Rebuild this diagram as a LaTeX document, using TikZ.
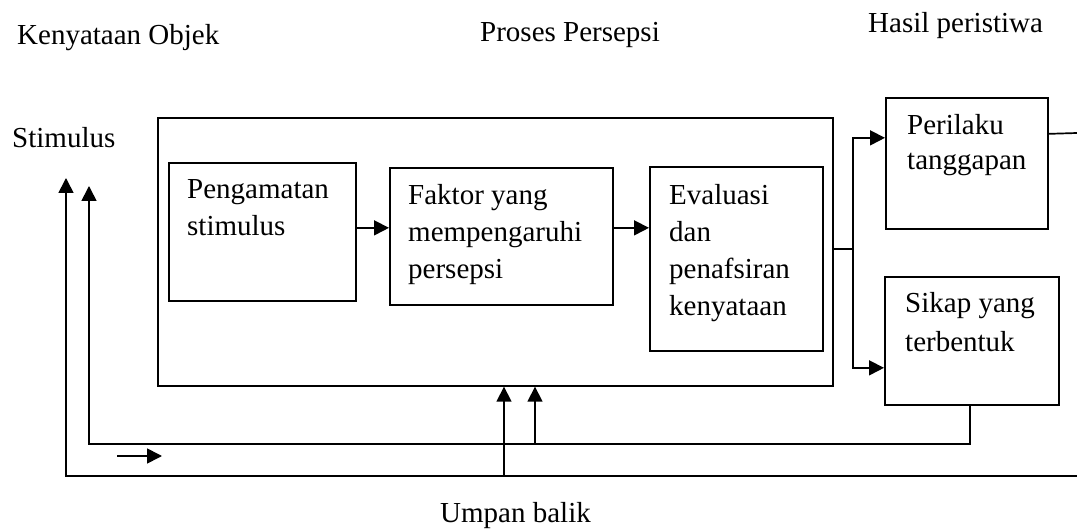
\documentclass[tikz,border=0pt]{standalone}
\usepackage{fontspec}
\setmainfont{Liberation Serif}
\usetikzlibrary{arrows.meta}
\begin{document}
\begin{tikzpicture}[x=1pt,y=-1pt,
  box/.style={draw, line width=1.7pt, inner sep=0pt, anchor=north west},
  lbl/.style={inner sep=0pt, anchor=base west, font=\fontsize{29}{37}\selectfont},
  ln/.style={line width=1.7pt},
  arr/.style={line width=1.7pt, -{Triangle[length=15pt,width=15pt]}}]
\useasboundingbox (0,0) rectangle (1077,529);

% headings
\node[lbl] (hk) at (17,45) {Kenyataan Objek};
\node[lbl] (hp) at (480,42) {Proses Persepsi};
\node[lbl] (hh) at (868,33) {Hasil peristiwa};
\node[lbl] (hs) at (12,148) {Stimulus};
\node[lbl] (hu) at (440,522) {Umpan balik};

% boxes
\node[box, minimum width=675pt, minimum height=268pt] (proc) at (157,117) {};
\node[box, minimum width=187pt, minimum height=138pt] (peng) at (168,162) {};
\node[box, minimum width=223pt, minimum height=137pt] (fak) at (389,167) {};
\node[box, minimum width=173pt, minimum height=184pt] (eva) at (649,166) {};
\node[box, minimum width=162pt, minimum height=131pt] (per) at (885,97) {};
\node[box, minimum width=174pt, minimum height=128pt] (sik) at (884,276) {};

% box texts
\node[lbl] (tpeng) at (187,199) {\vtop{\hbox{Pengamatan}\hbox{stimulus}}};
\node[lbl] (tfak) at (408,205) {\vtop{\hbox{Faktor yang}\hbox{mempengaruhi}\hbox{persepsi}}};
\node[lbl] (teva) at (669,205) {\vtop{\hbox{Evaluasi}\hbox{dan}\hbox{penafsiran}\hbox{kenyataan}}};
\node[lbl] (tper) at (907,135) {\vtop{\hbox{Perilaku}\kern-2pt\hbox{tanggapan}}};
\node[lbl] (tsik) at (905,313) {\vtop{\hbox{Sikap yang}\kern2pt\hbox{terbentuk}}};

% inner arrows
\coordinate (a1) at ([yshift=4pt]peng.east);
\draw[arr] (a1) -- (a1 -| fak.west);
\coordinate (a2) at ([yshift=8.5pt]fak.east);
\draw[arr] (a2) -- (a2 -| eva.west);

% split to results
\coordinate (b0) at ([yshift=3pt]proc.east);
\coordinate (sp) at ([xshift=19pt]b0);
\coordinate (pa) at ([yshift=25.5pt]per.west);
\coordinate (sa) at ([yshift=-27pt]sik.west);
\draw[ln] (b0) -- (sp);
\draw[arr] (sp) |- (pa);
\draw[arr] (sp) |- (sa);

% Perilaku exit line
\coordinate (pe) at ([yshift=29.5pt]per.east);
\coordinate (pend) at (1077,133);
\draw[ln] (pe) -- (pend);

% inner feedback loop
\coordinate (sk0) at ([xshift=-2pt]sik.south);
\coordinate (ib) at (89,444);
\coordinate (itip) at (89,186);
\draw[arr] (sk0) |- (ib) -- (itip);
\coordinate (ia) at (535,444);
\draw[arr] (ia) -- (ia |- proc.south);

% outer feedback loop
\coordinate (oend) at (1077,476);
\coordinate (ob) at (66,476);
\coordinate (otip) at (66,178);
\draw[arr] (oend) -- (ob) -- (otip);
\coordinate (oa) at (504,476);
\draw[arr] (oa) -- (oa |- proc.south);

% small arrow
\coordinate (s1) at (117,456);
\coordinate (s2) at (162,456);
\draw[arr] (s1) -- (s2);
\end{tikzpicture}
\end{document}
